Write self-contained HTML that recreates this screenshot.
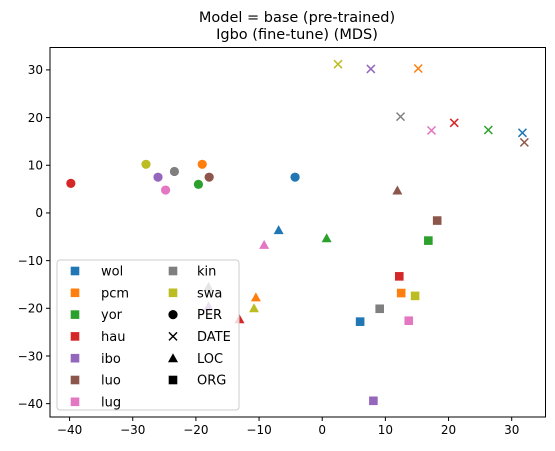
<!DOCTYPE html>
<html><head><meta charset="utf-8">
<style>
html,body{margin:0;padding:0;background:#fff;}
svg{display:block;font-family:"DejaVu Sans","Liberation Sans",sans-serif;}
</style></head>
<body>
<svg id="chart" width="555" height="451" viewBox="0 0 555 451" xmlns="http://www.w3.org/2000/svg">
<rect width="555" height="451" fill="#fff"/>
<text x="297" y="22" text-anchor="middle" font-size="14.5">Model = base (pre-trained)</text>
<text x="297" y="39" text-anchor="middle" font-size="14.5">Igbo (fine-tune) (MDS)</text>
<g id="marks"></g>
<g id="axes"></g>
<g id="legend"></g>
</svg>
<script>
const languages = ["wol","pcm","yor","hau","ibo","luo","lug","kin","swa"];
const colors = ["#1f77b4","#ff7f0e","#2ca02c","#d62728","#9467bd","#8c564b","#e377c2","#7f7f7f","#bcbd22"];
const entityTypes = ["PER","DATE","LOC","ORG"];
const perX = [-4.3,-19,-19.6,-39.8,-26,-17.9,-24.8,-23.4,-27.9];
const perY = [7.5,10.2,6,6.2,7.5,7.5,4.8,8.7,10.2];
const dateX = [31.7,15.2,26.3,20.9,7.7,32,17.3,12.4,2.5];
const dateY = [16.8,30.3,17.4,18.9,30.2,14.8,17.3,20.2,31.2];
const locX = [-6.9,-10.5,0.7,-13.1,-18,11.9,-9.2,-18,-10.8];
const locY = [-3.6,-17.7,-5.3,-22.3,-19.6,4.7,-6.7,-15.5,-20];
const orgX = [6,12.5,16.8,12.2,8.1,18.2,13.7,9.1,14.7];
const orgY = [-22.8,-16.8,-5.8,-13.3,-39.4,-1.6,-22.6,-20.1,-17.4];
const xTicks = [-40,-30,-20,-10,0,10,20,30];
const yTicks = [-40,-30,-20,-10,0,10,20,30];

const NS="http://www.w3.org/2000/svg";
const L=50,R=545.5,T=47.5,B=417;
const xMin=-43.1,xMax=35.35,yMin=-42.8,yMax=34.7;
const sx=v=>L+(v-xMin)/(xMax-xMin)*(R-L);
const sy=v=>B-(v-yMin)/(yMax-yMin)*(B-T);
function mk(tag,attrs,parent){const e=document.createElementNS(NS,tag);for(const k in attrs)e.setAttribute(k,attrs[k]);parent.appendChild(e);return e;}
function marker(type,cx,cy,color,parent){
  if(type==="PER") return mk("circle",{cx:cx,cy:cy,r:4.6,fill:color},parent);
  if(type==="ORG") return mk("rect",{x:cx-4.3,y:cy-4.3,width:8.6,height:8.6,fill:color},parent);
  if(type==="LOC") return mk("polygon",{points:`${cx},${cy-5} ${cx-5},${cy+4} ${cx+5},${cy+4}`,fill:color},parent);
  return mk("path",{d:`M${cx-4},${cy-4}L${cx+4},${cy+4}M${cx-4},${cy+4}L${cx+4},${cy-4}`,stroke:color,"stroke-width":1.5,fill:"none"},parent);
}
const marks=document.getElementById("marks");
const sets=[["PER",perX,perY],["DATE",dateX,dateY],["LOC",locX,locY],["ORG",orgX,orgY]];
sets.forEach(([t,xs,ys])=>{
  xs.forEach((x,i)=>{
    const e=marker(t,sx(x),sy(ys[i]),colors[i],marks);
    
    
  });
});
const axes=document.getElementById("axes");
const frame=mk("rect",{x:L,y:T,width:R-L,height:B-T,fill:"none",stroke:"#000","stroke-width":1},axes);


xTicks.forEach(v=>{
  const x=sx(v);
  mk("line",{x1:x,y1:B,x2:x,y2:B+4,stroke:"#000","stroke-width":1},axes);
  const t=mk("text",{x:x,y:B+17,"text-anchor":"middle","font-size":"12"},axes);
  t.textContent=v<0?"\u2212"+Math.abs(v):String(v);
  
  
});
yTicks.forEach(v=>{
  const y=sy(v);
  mk("line",{x1:L-4,y1:y,x2:L,y2:y,stroke:"#000","stroke-width":1},axes);
  const t=mk("text",{x:L-7,y:y+4.3,"text-anchor":"end","font-size":"12"},axes);
  t.textContent=v<0?"\u2212"+Math.abs(v):String(v);
  
  
});
const lg=document.getElementById("legend");


mk("rect",{x:57,y:260,width:182,height:150,rx:3,fill:"#fff","fill-opacity":0.8,stroke:"#ccc","stroke-width":1},lg);
const entries=languages.map((l,i)=>({label:l,type:"ORG",color:colors[i]})).concat(entityTypes.map(t=>({label:t,type:t,color:"#000"})));
entries.forEach((en,k)=>{
  const col=k<7?0:1,row=k<7?k:k-7;
  const mx=col?173:75, tx=col?197:101, y=271+row*21.8;
  const g=mk("g",{},lg);
  
  
  marker(en.type,mx,y,en.color,g);
  const t=mk("text",{x:tx,y:y+4.6,"font-size":"13"},g);
  t.textContent=en.label;
});
</script>
</body></html>
